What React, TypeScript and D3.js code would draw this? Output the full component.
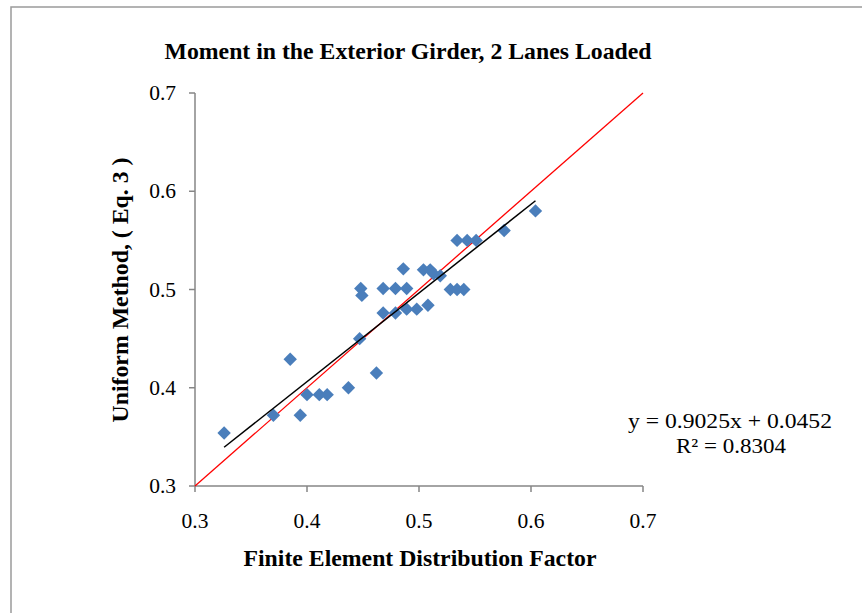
import React from "react";
import * as d3 from "d3";

const feValues = [0.326, 0.37, 0.385, 0.394, 0.4, 0.411, 0.418, 0.437, 0.447, 0.448, 0.449, 0.462, 0.468, 0.468, 0.479, 0.479, 0.486, 0.489, 0.489, 0.498, 0.504, 0.508, 0.51, 0.513, 0.519, 0.528, 0.534, 0.534, 0.54, 0.543, 0.551, 0.576, 0.604];
const uniformValues = [0.354, 0.372, 0.429, 0.372, 0.393, 0.393, 0.393, 0.4, 0.45, 0.501, 0.494, 0.415, 0.501, 0.476, 0.501, 0.476, 0.521, 0.501, 0.48, 0.48, 0.52, 0.484, 0.52, 0.516, 0.514, 0.5, 0.5, 0.55, 0.5, 0.55, 0.55, 0.56, 0.58];
const xTicks = [0.3, 0.4, 0.5, 0.6, 0.7];
const yTicks = [0.3, 0.4, 0.5, 0.6, 0.7];
const trendSlope = 0.9025;
const trendIntercept = 0.0452;
const titleText = "Moment in the Exterior Girder, 2 Lanes Loaded";
const xTitle = "Finite Element Distribution Factor";
const yTitle = "Uniform Method, ( Eq. 3 )";
const eqText = "y = 0.9025x + 0.0452";
const r2Text = "R² = 0.8304";

export default function App() {
  const W = 862, H = 613;
  const x = d3.scaleLinear().domain([0.3, 0.7]).range([195, 643]);
  const y = d3.scaleLinear().domain([0.3, 0.7]).range([486, 93]);
  const axisColor = "#868686";
  const font = "'Liberation Serif', 'Times New Roman', serif";
  const xMin = d3.min(feValues)!, xMax = d3.max(feValues)!;
  const line = d3.line<number>().x((d) => x(d)).y((d) => y(trendSlope * d + trendIntercept));
  const ref = d3.line<number>().x((d) => x(d)).y((d) => y(d));
  const diamond = d3.symbol().type(d3.symbolSquare).size(90)();
  return (
    <svg width={W} height={H} style={{ position: "absolute", left: 0, top: 0, background: "#fff" }}>
      <rect x={11} y={7} width={900} height={700} fill="#fff" stroke="#9a9a9a" strokeWidth={1.5} />
      <text x={408} y={59} textAnchor="middle" fontFamily={font} fontWeight="bold" fontSize={24} textLength={487} lengthAdjust="spacingAndGlyphs">{titleText}</text>
      {/* axes */}
      <line x1={x(0.3)} x2={x(0.3)} y1={y(0.7)} y2={y(0.3)} stroke={axisColor} strokeWidth={1.5} />
      <line x1={x(0.3)} x2={x(0.7)} y1={y(0.3)} y2={y(0.3)} stroke={axisColor} strokeWidth={1.5} />
      {yTicks.map((t) => (
        <g key={"y" + t}>
          <line x1={x(0.3) - 6} x2={x(0.3)} y1={y(t)} y2={y(t)} stroke={axisColor} strokeWidth={1.5} />
          <text x={176} y={y(t) + 7} textAnchor="end" fontFamily={font} fontSize={21.5}>{t.toFixed(1)}</text>
        </g>
      ))}
      {xTicks.map((t) => (
        <g key={"x" + t}>
          <line x1={x(t)} x2={x(t)} y1={y(0.3)} y2={y(0.3) + 6} stroke={axisColor} strokeWidth={1.5} />
          <text x={x(t)} y={528} textAnchor="middle" fontFamily={font} fontSize={21.5}>{t.toFixed(1)}</text>
        </g>
      ))}
      <text x={420} y={566} textAnchor="middle" fontFamily={font} fontWeight="bold" fontSize={23.5} textLength={353} lengthAdjust="spacingAndGlyphs">{xTitle}</text>
      <text transform="translate(128,290) rotate(-90)" textAnchor="middle" fontFamily={font} fontWeight="bold" fontSize={23.5} textLength={265} lengthAdjust="spacingAndGlyphs">{yTitle}</text>
      {/* reference line y = x */}
      <path d={ref([0.3, 0.7])!} stroke="#ff0000" strokeWidth={1.3} fill="none" />
      {/* points */}
      {feValues.map((v, i) => (
        <path key={i} d={diamond!} transform={`translate(${x(v)},${y(uniformValues[i])}) rotate(45)`} fill="#4a7ebb" />
      ))}
      {/* trendline */}
      <path d={line([xMin, xMax])!} stroke="#000" strokeWidth={1.5} fill="none" />
      <text x={730} y={428} textAnchor="middle" fontFamily={font} fontSize={22} textLength={204} lengthAdjust="spacingAndGlyphs">{eqText}</text>
      <text x={731} y={453} textAnchor="middle" fontFamily={font} fontSize={22} textLength={110} lengthAdjust="spacingAndGlyphs">{r2Text}</text>
    </svg>
  );
}
